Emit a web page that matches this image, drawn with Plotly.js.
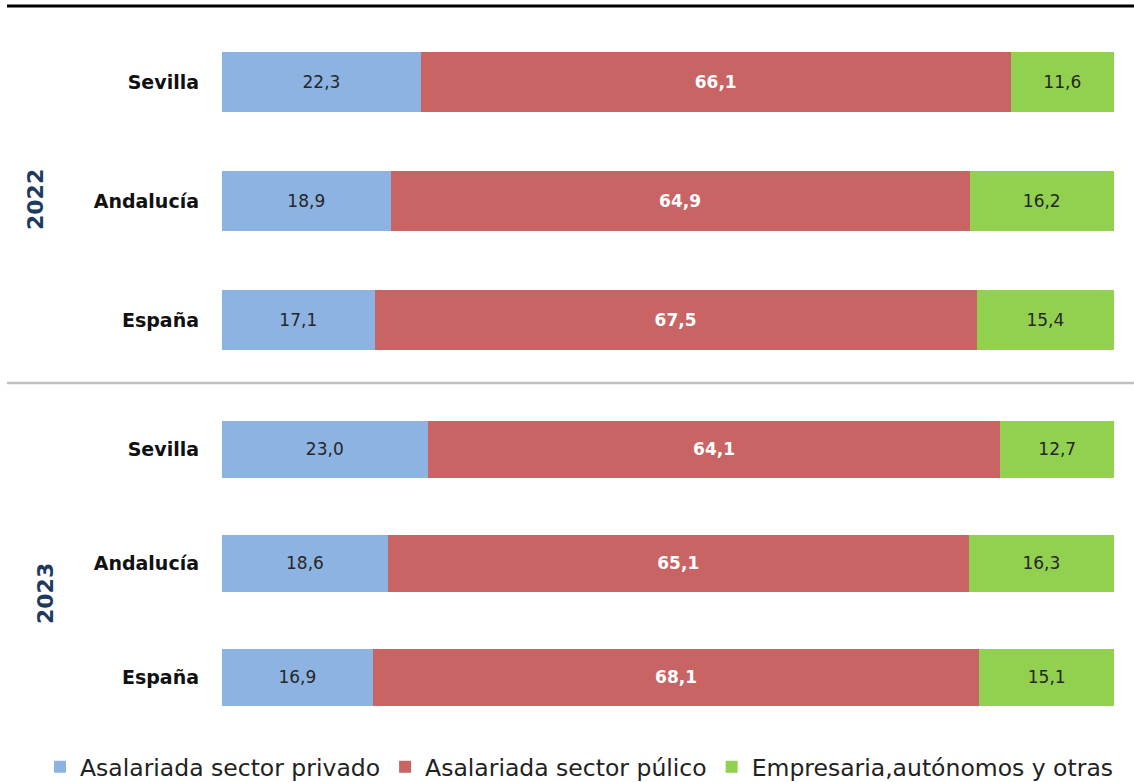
<!DOCTYPE html>
<html>
<head>
<meta charset="utf-8">
<script src="https://cdn.plot.ly/plotly-3.0.1.min.js"></script>
<style>html,body{margin:0;padding:0;background:#fff;width:1134px;height:782px;overflow:hidden;}#chart{width:1134px;height:782px;display:block;overflow:hidden;}</style>
</head>
<body>
<div id="chart"></div>
<script>
const categories = ["Sevilla", "Andalucía", "España"];
const years = ["2022", "2023"];
const seriesNames = ["Asalariada sector privado", "Asalariada sector púlico", "Empresaria,autónomos y otras"];
// 2022
const privado2022 = [22.3, 18.9, 17.1];
const publico2022 = [66.1, 64.9, 67.5];
const otras2022   = [11.6, 16.2, 15.4];
// 2023
const privado2023 = [23.0, 18.6, 16.9];
const publico2023 = [64.1, 65.1, 68.1];
const otras2023   = [12.7, 16.3, 15.1];

const colors = ["#8DB3E2", "#C86464", "#92D050"];
const fmt = v => v.toFixed(1).replace(".", ",");
const FONT = "DejaVu Sans, sans-serif";

function mk(vals, idx, yaxis, showlegend) {
  const white = idx === 1;
  return {
    type: "bar", orientation: "h",
    x: vals, y: categories,
    xaxis: yaxis === "y" ? "x" : "x2", yaxis: yaxis,
    name: seriesNames[idx], legendgroup: "g" + idx, showlegend: showlegend,
    marker: {color: colors[idx], line: {width: 0}},
    text: vals.map(fmt), textposition: "inside", insidetextanchor: "middle",
    textangle: 0, constraintext: "none",
    insidetextfont: {family: FONT, size: 17, color: white ? "#ffffff" : "#262626", weight: white ? "bold" : "normal"},
    hoverinfo: "name+text"
  };
}

const data = [
  mk(privado2022, 0, "y", true), mk(publico2022, 1, "y", true), mk(otras2022, 2, "y", true),
  mk(privado2023, 0, "y2", false), mk(publico2023, 1, "y2", false), mk(otras2023, 2, "y2", false)
];

const W = 1134, H = 782;
const px = v => v / W, py = v => 1 - v / H;
const xdom = [px(222), px(1114)];
const xax = {domain: xdom, range: [0, 100], showgrid: false, zeroline: false, showticklabels: false, showline: false, fixedrange: true};
const yax = (dom) => ({
  domain: dom, type: "category", categoryorder: "array", categoryarray: categories,
  range: [2.5, -0.5], showgrid: false, zeroline: false, showline: false, ticks: "",
  ticklabelstandoff: 22,
  tickfont: {family: FONT, size: 19, color: "#111111", weight: "bold"}
});

const layout = {
  width: W, height: H,
  margin: {l: 0, r: 0, t: 0, b: 0, autoexpand: false},
  paper_bgcolor: "#ffffff", plot_bgcolor: "#ffffff",
  barmode: "stack", barnorm: "percent", bargap: 0.5,
  showlegend: true,
  xaxis: Object.assign({}, xax, {anchor: "y"}),
  xaxis2: Object.assign({}, xax, {anchor: "y2"}),
  yaxis: Object.assign(yax([py(379.5), py(22.5)]), {anchor: "x"}),
  yaxis2: Object.assign(yax([py(734), py(392)]), {anchor: "x2"}),
  legend: {orientation: "h", x: px(40), xanchor: "left", y: py(767), yanchor: "middle",
           font: {family: FONT, size: 23.5, color: "#222222"}, traceorder: "normal", itemclick: false},
  shapes: [
    {type: "line", xref: "paper", yref: "paper", x0: px(7), x1: 1, y0: py(6), y1: py(6), line: {color: "#000000", width: 3}},
    {type: "line", xref: "paper", yref: "paper", x0: px(7), x1: 1, y0: py(383), y1: py(383), line: {color: "#C0C0C0", width: 2.5}}
  ],
  annotations: [
    {text: years[0], xref: "paper", yref: "paper", x: px(36), y: py(200), textangle: -90, showarrow: false,
     xanchor: "center", yanchor: "middle", font: {family: FONT, size: 22, color: "#1F3A5F", weight: "bold"}},
    {text: years[1], xref: "paper", yref: "paper", x: px(45), y: py(594), textangle: -90, showarrow: false,
     xanchor: "center", yanchor: "middle", font: {family: FONT, size: 22, color: "#1F3A5F", weight: "bold"}}
  ]
};

Plotly.newPlot("chart", data, layout, {displayModeBar: false, staticPlot: true});
</script>
</body>
</html>
